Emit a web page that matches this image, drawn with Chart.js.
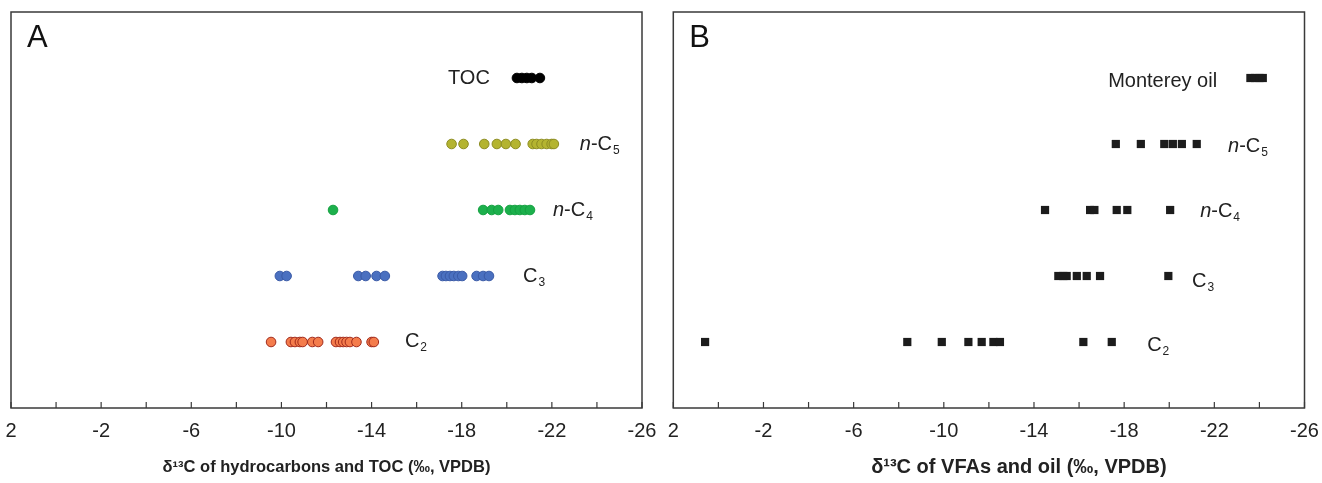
<!DOCTYPE html>
<html>
<head>
<meta charset="utf-8">
<script src="https://cdn.jsdelivr.net/npm/chart.js@4.4.0/dist/chart.umd.min.js"></script>
<style>
  html, body { margin: 0; padding: 0; background: #fff; }
  .panel { position: absolute; top: 0; width: 661px; height: 483px; }
  #panelA { left: 0; }
  #panelB { left: 661px; }
</style>
</head>
<body>
<div class="panel" id="panelA"><canvas id="chartA"></canvas></div>
<div class="panel" id="panelB"><canvas id="chartB"></canvas></div>
<script>
// rows on the hidden y axis: 1 = C2 ... 5 = TOC / oil
const rowIndex = { C2: 1, C3: 2, nC4: 3, nC5: 4, top: 5 };

// panel A: delta13C of hydrocarbons and TOC (per mil)
const hcC2 = [-9.54, -10.42, -10.6, -10.82, -10.94, -11.37, -11.63, -12.42, -12.6, -12.74, -12.89, -13.04, -13.33, -14.0, -14.1];
const hcC3 = [-9.93, -10.23, -13.41, -13.74, -14.22, -14.59, -17.15, -17.3, -17.48, -17.65, -17.85, -18.02, -18.66, -18.95, -19.21];
const hcC4 = [-12.29, -18.95, -19.33, -19.62, -20.14, -20.36, -20.58, -20.8, -21.03];
const hcC5 = [-17.55, -18.08, -19.0, -19.56, -19.96, -20.39, -21.15, -21.32, -21.54, -21.77, -21.99, -22.09];
const tocValues = [-20.45, -20.67, -20.89, -21.11, -21.47];

// panel B: delta13C of VFAs and oil (per mil)
const vfaC2 = [0.59, -8.38, -9.91, -11.09, -11.68, -12.2, -12.49, -16.19, -17.45];
const vfaC3 = [-15.08, -15.3, -15.45, -15.9, -16.34, -16.93, -19.96];
const vfaC4 = [-14.49, -16.49, -16.68, -17.67, -18.14, -20.04];
const vfaC5 = [-17.63, -18.74, -19.78, -20.16, -20.56, -21.22];
const oilValues = [-23.6, -23.8, -24.0, -24.15];

const axisMin = -26;
const axisMax = 2;
const tickStep = 2;

// row labels, anchored in data units (x = where the text starts)
const labelsA = [
  { text: 'TOC', x: -17.39, row: 5, dy: 0 },
  { text: 'n-C5', x: -23.24, row: 4, dy: 0 },
  { text: 'n-C4', x: -22.05, row: 3, dy: 0 },
  { text: 'C3', x: -20.72, row: 2, dy: 0 },
  { text: 'C2', x: -15.48, row: 1, dy: -1 }
];
const labelsB = [
  { text: 'Monterey oil', x: -17.29, row: 5, dy: 3 },
  { text: 'n-C5', x: -22.61, row: 4, dy: 2 },
  { text: 'n-C4', x: -21.37, row: 3, dy: 1 },
  { text: 'C3', x: -21.01, row: 2, dy: 5 },
  { text: 'C2', x: -19.02, row: 1, dy: 3 }
];

const FONT = '"Liberation Sans", Arial, Helvetica, sans-serif';

function toPoints(values, row) {
  return values.map(v => ({ x: v, y: row }));
}

function drawRowLabel(ctx, text, px, py) {
  const m = text.match(/^(n-)?(.*?)(\d?)$/);
  const base = '20px ' + FONT;
  ctx.textBaseline = 'middle';
  ctx.textAlign = 'left';
  ctx.fillStyle = '#222';
  let cx = px;
  if (m[1]) {
    ctx.font = 'italic ' + base;
    ctx.fillText('n', cx, py);
    cx += ctx.measureText('n').width;
    ctx.font = base;
    ctx.fillText('-', cx, py);
    cx += ctx.measureText('-').width;
  }
  ctx.font = base;
  ctx.fillText(m[2], cx, py);
  cx += ctx.measureText(m[2]).width;
  if (m[3]) {
    ctx.font = '12px ' + FONT;
    ctx.fillText(m[3], cx + 1, py + 7);
  }
}

const framePlugin = {
  id: 'frame',
  afterDraw(chart, args, opts) {
    const { ctx, chartArea: a, scales: { x, y } } = chart;
    ctx.save();
    ctx.strokeStyle = '#3a3a3a';
    ctx.lineWidth = 1.5;
    ctx.strokeRect(a.left, a.top, a.right - a.left, a.bottom - a.top);

    // small tick marks pointing into the plot
    ctx.lineWidth = 1.2;
    x.ticks.forEach(t => {
      const px = x.getPixelForValue(t.value);
      ctx.beginPath();
      ctx.moveTo(px, a.bottom);
      ctx.lineTo(px, a.bottom - 6);
      ctx.stroke();
    });

    // panel letter
    ctx.fillStyle = '#111';
    ctx.font = '31px ' + FONT;
    ctx.textAlign = 'left';
    ctx.textBaseline = 'alphabetic';
    ctx.fillText(opts.letter, a.left + 16, a.top + 35);

    opts.labels.forEach(l => {
      drawRowLabel(ctx, l.text, x.getPixelForValue(l.x), y.getPixelForValue(l.row) + l.dy);
    });

    // axis title
    ctx.font = 'bold ' + opts.titleSize + 'px ' + FONT;
    ctx.fillStyle = '#222';
    ctx.textAlign = 'center';
    ctx.textBaseline = 'middle';
    ctx.fillText(opts.title, (a.left + a.right) / 2 + opts.titleShift, a.bottom + 59);
    ctx.restore();
  }
};

function makeOptions(letter, labels, title, titleSize, titleShift, padLeft, padRight) {
  return {
    responsive: true,
    maintainAspectRatio: false,
    animation: false,
    layout: { padding: { left: padLeft, right: padRight, top: 12, bottom: 0 } },
    plugins: {
      legend: { display: false },
      tooltip: { enabled: false },
      frame: { letter: letter, labels: labels, title: title, titleSize: titleSize, titleShift: titleShift }
    },
    scales: {
      x: {
        type: 'linear',
        reverse: true,
        min: axisMin,
        max: axisMax,
        grid: { display: false, drawTicks: false },
        border: { display: false },
        ticks: {
          stepSize: tickStep,
          autoSkip: false,
          maxRotation: 0,
          padding: 11,
          color: '#222',
          font: { family: FONT, size: 20 },
          callback: v => (Math.round(axisMax - v) % 4 === 0 ? String(v) : '')
        },
        afterFit: scale => {
          scale.paddingLeft = 0;
          scale.paddingRight = 0;
          scale.height = 75;
        }
      },
      y: { type: 'linear', min: 0, max: 6, display: false }
    }
  };
}

function circleSet(values, row, fill, border) {
  return {
    data: toPoints(values, row),
    pointStyle: 'circle',
    pointRadius: 4.8,
    pointBorderWidth: 1,
    backgroundColor: fill,
    borderColor: border,
    clip: false
  };
}

function squareSet(values, row) {
  return {
    data: toPoints(values, row),
    pointStyle: 'rect',
    pointRadius: 5.8,
    pointBorderWidth: 0,
    backgroundColor: '#1c1c1c',
    borderColor: '#1c1c1c',
    clip: false
  };
}

new Chart(document.getElementById('chartA'), {
  type: 'scatter',
  data: {
    datasets: [
      circleSet(hcC2, rowIndex.C2, '#f47c4c', '#a02a1c'),
      circleSet(hcC3, rowIndex.C3, '#4a70c0', '#3a5aa6'),
      circleSet(hcC4, rowIndex.nC4, '#1cb04c', '#14a040'),
      circleSet(hcC5, rowIndex.nC5, '#b4b430', '#8c8c22'),
      circleSet(tocValues, rowIndex.top, '#000000', '#000000')
    ]
  },
  options: makeOptions('A', labelsA, 'δ¹³C of hydrocarbons and TOC (‰, VPDB)', 16.5, 0, 11, 19),
  plugins: [framePlugin]
});

new Chart(document.getElementById('chartB'), {
  type: 'scatter',
  data: {
    datasets: [
      squareSet(vfaC2, rowIndex.C2),
      squareSet(vfaC3, rowIndex.C3),
      squareSet(vfaC4, rowIndex.nC4),
      squareSet(vfaC5, rowIndex.nC5),
      squareSet(oilValues, rowIndex.top)
    ]
  },
  options: makeOptions('B', labelsB, 'δ¹³C of VFAs and oil (‰, VPDB)', 20, 30, 12.3, 17.5),
  plugins: [framePlugin]
});
</script>
</body>
</html>
